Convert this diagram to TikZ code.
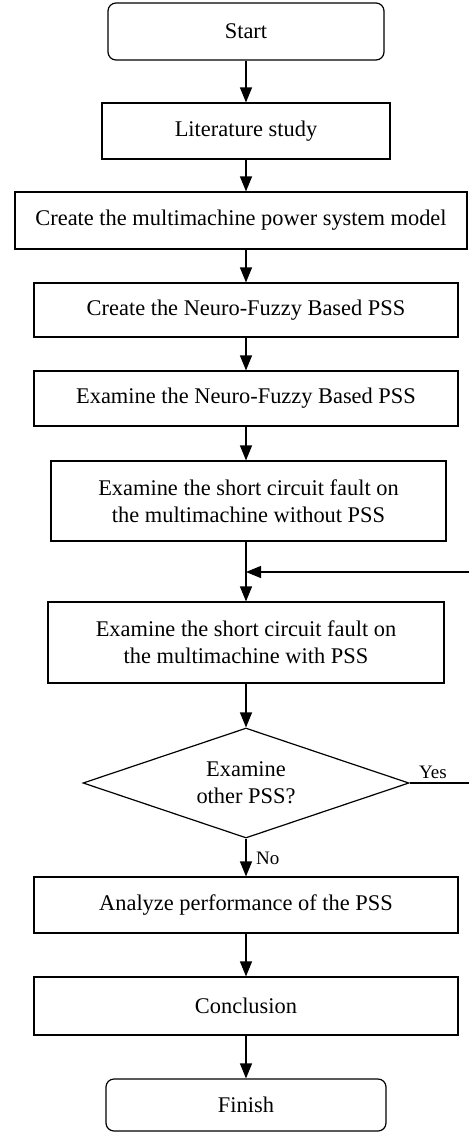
\documentclass[tikz,border=0pt]{standalone}
\usepackage{fontspec}
\setmainfont{Liberation Serif}
\usetikzlibrary{arrows.meta,shapes.geometric}
\begin{document}
\begin{tikzpicture}[x=1pt,y=-1pt,
  box/.style={draw,line width=1.2pt,rectangle,inner sep=0pt,align=center,
    font=\fontsize{22.4}{27}\selectfont},
  term/.style={box,rounded corners=8pt},
  dec/.style={draw,line width=1.2pt,diamond,shape aspect=2.96,inner sep=0pt,align=center,
    font=\fontsize{22.4}{27}\selectfont},
  lbl/.style={font=\fontsize{19}{22}\selectfont,inner sep=0pt},
  arr/.style={line width=1.2pt,-{Triangle[length=15pt,width=12pt]}},
  ln/.style={line width=1.2pt}]
\useasboundingbox (0,0) rectangle (469,1133);
\node[term,minimum width=276pt,minimum height=57pt] (start) at (246,31.5) {Start};
\node[box,minimum width=288pt,minimum height=56pt] (lit) at (246,131) {Literature study};
\node[box,minimum width=452pt,minimum height=57pt] (model) at (241,220.5) {Create the multimachine power system model};
\node[box,minimum width=424pt,minimum height=54pt] (nf1) at (246,310) {Create the Neuro-Fuzzy Based PSS};
\node[box,minimum width=424pt,minimum height=55pt] (nf2) at (246,398.5) {Examine the Neuro-Fuzzy Based PSS};
\node[box,minimum width=395pt,minimum height=80pt] (wo) at (248.5,501) {Examine the short circuit fault on\\the multimachine without PSS};
\node[box,minimum width=396pt,minimum height=81pt] (with) at (246,642.5) {Examine the short circuit fault on\\the multimachine with PSS};
\node[dec,minimum width=326pt,minimum height=110pt] (dia) at (246,783) {Examine\\other PSS?};
\node[box,minimum width=424pt,minimum height=56pt] (ana) at (246,905) {Analyze performance of the PSS};
\node[box,minimum width=424pt,minimum height=58pt] (con) at (246,1006) {Conclusion};
\node[term,minimum width=280pt,minimum height=52pt] (fin) at (246,1105) {Finish};
\coordinate (fbR) at (469,572);
\coordinate (fbL) at (246,572);
\coordinate (yesR) at (469,783);
\draw[arr] (start.south) -- (lit.north);
\draw[arr] (lit.south) -- (lit.south |- model.north);
\draw[arr] (model.south -| nf1.north) -- (nf1.north);
\draw[arr] (nf1.south) -- (nf2.north);
\draw[arr] (nf2.south) -- (nf2.south |- wo.north);
\draw[arr] (wo.south -| with.north) -- (with.north);
\draw[arr] (fbR) -- (fbL);
\draw[arr] (with.south) -- (dia.north);
\draw[ln] (dia.east) -- (yesR);
\draw[arr] (dia.south) -- (ana.north);
\draw[arr] (ana.south) -- (con.north);
\draw[arr] (con.south) -- (fin.north);
\node[lbl,anchor=south] (yes) at (433,779) {Yes};
\node[lbl,anchor=west] (no) at (256,858) {No};
\end{tikzpicture}
\end{document}
